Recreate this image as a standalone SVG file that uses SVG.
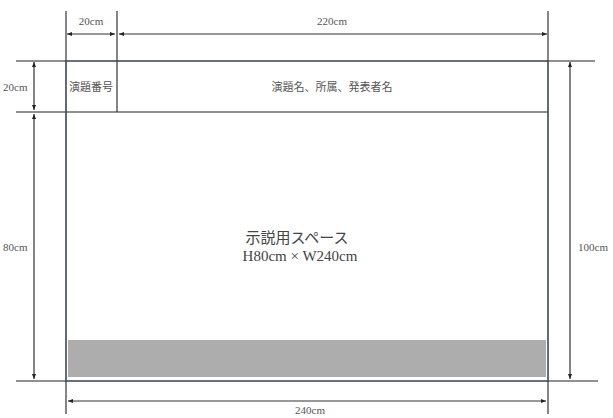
<svg xmlns="http://www.w3.org/2000/svg" width="613" height="418" viewBox="0 0 613 418">
<defs>
<marker id="ah" viewBox="0 0 10 10" refX="10" refY="5" markerWidth="5" markerHeight="5" orient="auto-start-reverse" markerUnits="userSpaceOnUse">
<path d="M0,1 L10,5 L0,9 z" fill="#222"/>
</marker>
<style>
.ext{stroke:#222;stroke-width:1.1;fill:none}
.dim{stroke:#333;stroke-width:1.2;fill:none;marker-start:url(#ah);marker-end:url(#ah)}
.t{font-family:"Liberation Serif","Noto Sans CJK JP",serif;font-size:11px;fill:#555}
.c{font-family:"Liberation Serif","Noto Sans CJK JP",serif;font-size:15px;fill:#444}
</style>
</defs>
<rect width="613" height="418" fill="#fff"/>
<g id="connectors">
<line class="ext" x1="66" y1="11" x2="66" y2="414"/>
<line class="ext" x1="548" y1="11" x2="548" y2="414"/>
<line class="ext" x1="117" y1="11" x2="117" y2="112"/>
<line class="ext" x1="16" y1="61" x2="595" y2="61"/>
<line class="ext" x1="16" y1="112" x2="548" y2="112"/>
<line class="ext" x1="16" y1="381" x2="598" y2="381"/>
<line class="dim" x1="67" y1="34" x2="115" y2="34"/>
<line class="dim" x1="119" y1="34" x2="547" y2="34"/>
<line class="dim" x1="34" y1="62" x2="34" y2="110"/>
<line class="dim" x1="34" y1="114" x2="34" y2="379"/>
<line class="dim" x1="570" y1="62" x2="570" y2="379"/>
<line class="dim" x1="68" y1="401" x2="546" y2="401"/>
</g>
<g id="panel">
<rect x="66" y="61" width="482" height="320" fill="none" stroke="#3a5566" stroke-width="1"/>
<rect x="68" y="340" width="478" height="37" fill="#adadad"/>
</g>
<g id="labels">
<text class="t" x="91" y="25" text-anchor="middle">20cm</text>
<text class="t" x="332" y="25" text-anchor="middle">220cm</text>
<text class="t" x="3" y="91">20cm</text>
<text class="t" x="91" y="91" text-anchor="middle">演題番号</text>
<text class="t" x="332" y="91" text-anchor="middle">演題名、所属、発表者名</text>
<text class="t" x="3" y="251">80cm</text>
<text class="t" x="578" y="251">100cm</text>
<text class="c" x="297" y="243" text-anchor="middle">示説用スペース</text>
<text class="c" x="300" y="261" text-anchor="middle">H80cm × W240cm</text>
<text class="t" x="310" y="414" text-anchor="middle">240cm</text>
</g>
</svg>
